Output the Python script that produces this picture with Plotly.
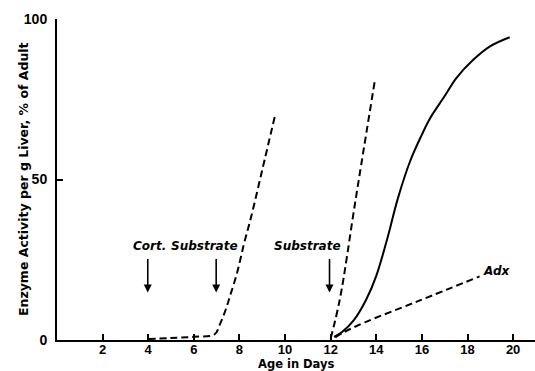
import plotly.graph_objects as go

# Data
cort_x = [4.0, 5.0, 6.0, 6.9, 7.15, 7.4, 7.6, 7.9, 8.2, 8.5, 9.0, 9.55]
cort_y = [0.3, 0.6, 1.0, 1.7, 5.0, 9.5, 14.0, 21.0, 30.0, 38.0, 53.0, 69.6]

steep_x = [12.0, 12.4, 13.1, 13.93]
steep_y = [0.5, 12.6, 44.0, 80.5]

solid_x = [12.15, 12.5, 13.0, 13.56, 14.0, 14.5, 14.95, 15.5, 16.0, 16.36, 17.0, 17.51, 18.24, 18.97, 19.85]
solid_y = [1.0, 2.5, 6.0, 12.6, 20.0, 32.0, 44.2, 56.0, 64.0, 69.1, 76.0, 81.6, 87.2, 91.4, 94.3]

adx_x = [12.2, 12.6, 13.5, 15.83, 18.53]
adx_y = [0.8, 2.5, 5.5, 12.1, 19.8]

x_ticks = [2, 4, 6, 8, 10, 12, 14, 16, 18, 20]
y_ticks = [0, 50, 100]

arrow_labels = ["Cort.", "Substrate", "Substrate"]
arrow_x = [3.98, 6.98, 11.95]
label_x = [4.07, 6.47, 10.99]

fig = go.Figure()
dash = "7px,4px"
fig.add_trace(go.Scatter(x=cort_x, y=cort_y, mode="lines", line=dict(color="black", width=2, dash=dash, shape="spline"), cliponaxis=False))
fig.add_trace(go.Scatter(x=steep_x, y=steep_y, mode="lines", line=dict(color="black", width=2, dash=dash, shape="spline"), cliponaxis=False))
fig.add_trace(go.Scatter(x=solid_x, y=solid_y, mode="lines", line=dict(color="black", width=2, shape="spline"), cliponaxis=False))
fig.add_trace(go.Scatter(x=adx_x, y=adx_y, mode="lines", line=dict(color="black", width=2, dash=dash, shape="spline"), cliponaxis=False))

afont = dict(family="DejaVu Sans", size=12, color="black", weight="bold", style="italic")
for lab, ax_, lx in zip(arrow_labels, arrow_x, label_x):
    fig.add_annotation(x=ax_, y=14.8, ax=ax_, ay=25.7, xref="x", yref="y", axref="x", ayref="y",
                       showarrow=True, arrowhead=2, arrowsize=1, arrowwidth=1.6, arrowcolor="black", text="")
    fig.add_annotation(x=lx, y=29.2, xref="x", yref="y", text=lab, showarrow=False, font=afont)

fig.add_annotation(x=18.6, y=21.6, xref="x", yref="y", text="Adx", showarrow=False, xanchor="left", font=afont)

fig.add_annotation(x=0, y=0.5, xref="paper", yref="paper", xshift=-43, textangle=-90, showarrow=False,
                   text="Enzyme Activity per g Liver, % of Adult",
                   font=dict(family="DejaVu Sans", size=12.5, color="black", weight="bold"))

fig.add_annotation(x=0.5, y=0, xref="paper", yref="paper", yshift=-23.5, yanchor="middle", showarrow=False,
                   borderpad=0, text="Age in Days",
                   font=dict(family="DejaVu Sans", size=11.5, color="black", weight="bold"))

fig.update_layout(
    width=535, height=371,
    margin=dict(l=57, r=0, t=19, b=31),
    paper_bgcolor="white", plot_bgcolor="white",
    showlegend=False,
    font=dict(family="Liberation Sans", size=14, color="black"),
    xaxis=dict(range=[0, 20.96], tickvals=x_ticks, ticks="inside", ticklen=6, tickwidth=2, tickcolor="black",
               showline=True, linewidth=2, linecolor="black", showgrid=False, zeroline=False,
               ticklabelstandoff=-4,
               tickfont=dict(size=13, weight="bold"), automargin=False),
    yaxis=dict(range=[0, 100], tickvals=y_ticks, ticks="inside", ticklen=6, tickwidth=2, tickcolor="black",
               showline=True, linewidth=2, linecolor="black", showgrid=False, zeroline=False,
               ticklabelstandoff=5, automargin=False,
               tickfont=dict(size=14, weight="bold")),
)

fig.write_html("out.html", config={"displayModeBar": False},
               post_script="document.body.style.margin='0';document.body.style.overflow='hidden';")
